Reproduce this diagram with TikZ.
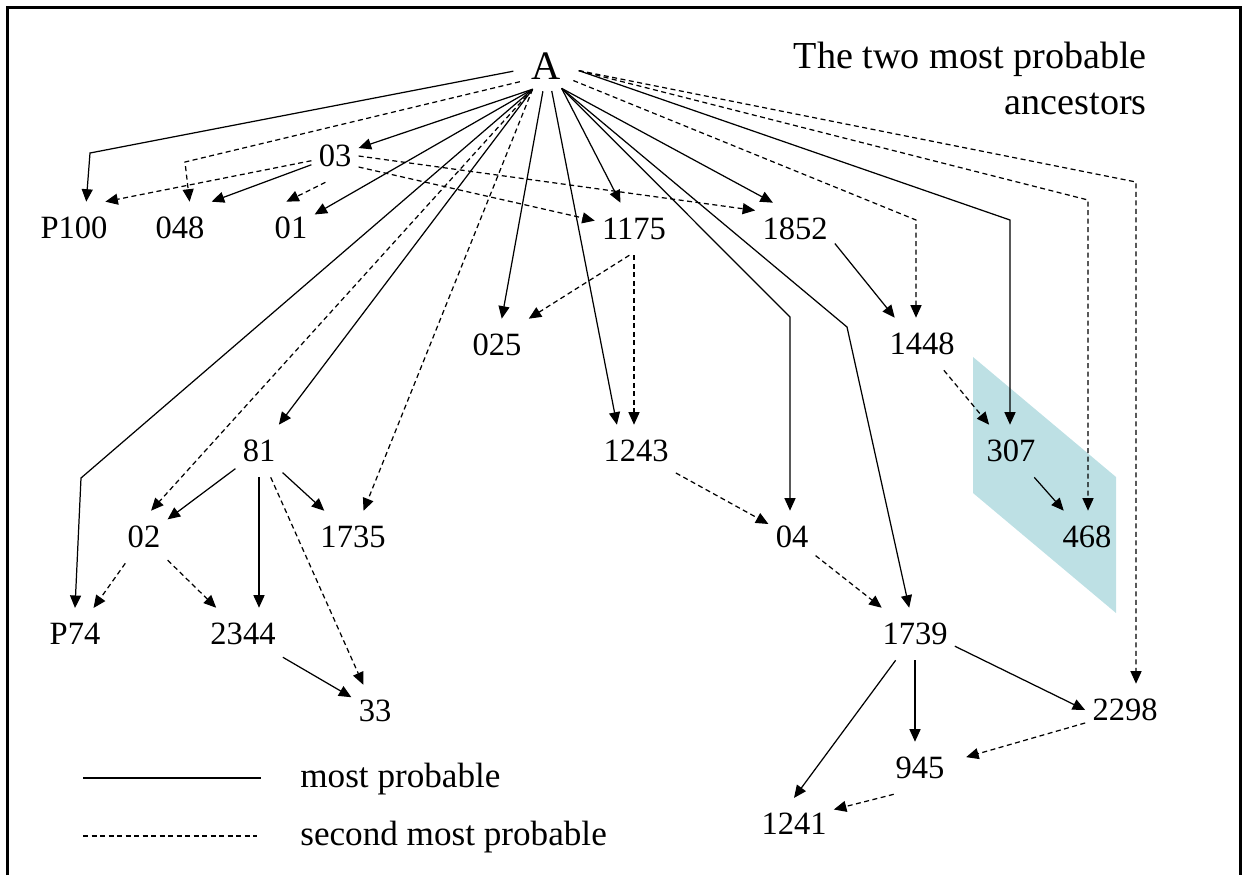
\documentclass[tikz,border=0pt]{standalone}
\usepackage{fontspec}
\setmainfont{Liberation Serif}
\usetikzlibrary{arrows.meta,shapes.geometric}

\definecolor{pairblue}{RGB}{189,224,228}

\begin{document}
\begin{tikzpicture}[x=0.2mm,y=-0.2mm,
    vtx/.style={inner xsep=1.4mm,inner ysep=3.0mm,font=\fontsize{18.5}{22}\selectfont},
    mostprob/.style={line width=0.7pt,-{Triangle[length=2.5mm,width=2.2mm]}},
    secondprob/.style={mostprob,dash pattern=on 1mm off 0.7mm}]
  \useasboundingbox (0,0) rectangle (1242,875);

  % frame, open at the bottom
  \draw[line width=0.6mm] (7,875) -- (7,7) -- (1240,7) -- (1240,875);

  % the pair 307 / 468
  \fill[pairblue] (973,357) -- (1116,477) -- (1116,613) -- (973,493) -- cycle;

  \node[anchor=north east,align=right,inner sep=0pt,font=\fontsize{21.7}{26}\selectfont]
    (title) at (1147,42) {The two most probable\\ancestors};

  \node[ellipse,minimum width=13.2mm,minimum height=10mm,inner sep=0pt,
    font=\fontsize{23}{26}\selectfont] (vA) at (546,66) {A};

  \node[vtx] (v03) at (335,156) {03};
  \node[vtx] (vP100) at (74,228) {P100};
  \node[vtx] (v048) at (180,228) {048};
  \node[vtx] (v01) at (291,228) {01};
  \node[vtx] (v1175) at (634,229) {1175};
  \node[vtx] (v1852) at (795,229) {1852};
  \node[vtx] (v025) at (497,345) {025};
  \node[vtx] (v1448) at (922,344) {1448};
  \node[vtx] (v81) at (259,451) {81};
  \node[vtx] (v1243) at (636,451) {1243};
  \node[vtx] (v307) at (1011,451) {307};
  \node[vtx] (v02) at (144,537) {02};
  \node[vtx] (v1735) at (353,537) {1735};
  \node[vtx] (v04) at (792,537) {04};
  \node[vtx] (v468) at (1087,537) {468};
  \node[vtx] (vP74) at (75,634) {P74};
  \node[vtx] (v2344) at (243,634) {2344};
  \node[vtx] (v1739) at (915,634) {1739};
  \node[vtx] (v33) at (375,711) {33};
  \node[vtx] (v2298) at (1125,710) {2298};
  \node[vtx] (v945) at (920,768) {945};
  \node[vtx] (v1241) at (794,824) {1241};

  % bends of the long edges
  \coordinate (kP100) at (90,153);
  \coordinate (k048) at (185,162);
  \coordinate (kP74) at (81,478);
  \coordinate (k04) at (790,317);
  \coordinate (k1739) at (847,327);
  \coordinate (k1448) at (916,220);
  \coordinate (k307) at (1010,220);
  \coordinate (k468) at (1088,200);
  \coordinate (k2298) at (1136,182);

  % most probable
  \draw[mostprob] (vA.189) -- (kP100) -- (vP100.65);
  \draw[mostprob] (vA.240) -- (v03);
  \draw[mostprob] (vA.240) -- (v01);
  \draw[mostprob] (vA.240) -- (kP74) -- (vP74.north);
  \draw[mostprob] (vA.240) -- (v81);
  \draw[mostprob] (vA.263) -- (v025);
  \draw[mostprob] (vA.283) -- (v1243.126);
  \draw[mostprob] (vA.305) -- (v1175);
  \draw[mostprob] (vA.305) -- (v1852.130);
  \draw[mostprob] (vA.305) -- (k04) -- (k04 |- v04.north);
  \draw[mostprob] (vA.305) -- (k1739) -- (v1739);
  \draw[mostprob] (vA.352) -- (k307) -- (k307 |- v307.north);
  \draw[mostprob] (v03) -- (v048.north east);
  \draw[mostprob] (v81) -- (v02);
  \draw[mostprob] (v81.south) -- (v81.south |- v2344.north);
  \draw[mostprob] (v81) -- (v1735);
  \draw[mostprob] (v2344) -- (v33);
  \draw[mostprob] (v1852.-20) -- (v1448.136);
  \draw[mostprob] (v307) -- (v468);
  \draw[mostprob] (v1739.-17) -- (v2298.west);
  \draw[mostprob] (v1739.south) -- (v1739.south |- v945.north);
  \draw[mostprob] (v1739) -- (v1241.north);

  % second most probable
  \draw[secondprob] (vA.211) -- (k048) -- (v048.70);
  \draw[secondprob] (vA.240) -- (v02.75);
  \draw[secondprob] (vA.240) -- (v1735);
  \draw[secondprob] (vA.332) -- (k1448) -- (k1448 |- v1448.north);
  \draw[secondprob] (vA.352) -- (k468) -- (k468 |- v468.north);
  \draw[secondprob] (vA.352) -- (k2298) -- (k2298 |- v2298.north);
  \draw[secondprob] (v03) -- (vP100.40);
  \draw[secondprob] (v03.250) -- (v01.100);
  \draw[secondprob] (v03.-25) -- (v1175.168);
  \draw[secondprob] (v03.east) -- (v1852.155);
  \draw[secondprob] (v1175.260) -- (v025.north east);
  \draw[secondprob] (v1175.south) -- (v1175.south |- v1243.north);
  \draw[secondprob] (v81) -- (v33);
  \draw[secondprob] (v02) -- (vP74);
  \draw[secondprob] (v02) -- (v2344);
  \draw[secondprob] (v1448) -- (v307);
  \draw[secondprob] (v1243) -- (v04);
  \draw[secondprob] (v04) -- (v1739);
  \draw[secondprob,shorten >=3mm] (v2298.198) -- (v945.12);
  \draw[secondprob] (v945.225) -- (v1241.20);

  % legend
  \draw[line width=0.7pt] (83,778) -- (261,778);
  \draw[line width=0.7pt,dash pattern=on 1mm off 0.7mm] (83,836) -- (257,836);
  \node[anchor=base west,inner sep=0pt,font=\fontsize{20}{24}\selectfont] (lgmost) at (300,787) {most probable};
  \node[anchor=base west,inner sep=0pt,font=\fontsize{20}{24}\selectfont] (lgsecond) at (300,845) {second most probable};
\end{tikzpicture}
\end{document}
